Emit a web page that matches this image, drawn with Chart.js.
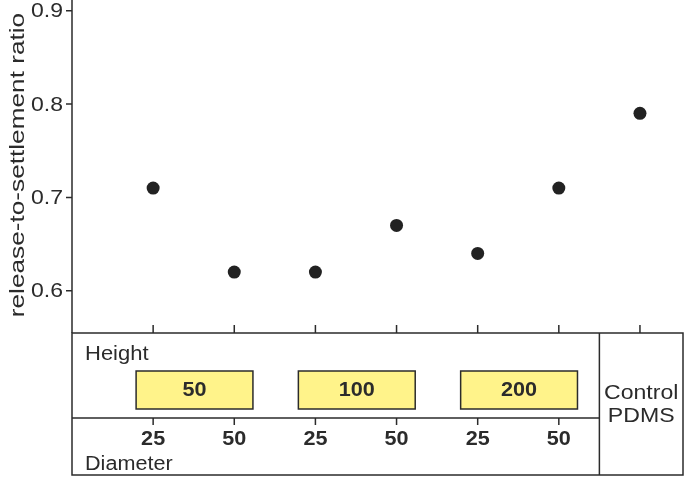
<!DOCTYPE html>
<html>
<head>
<meta charset="utf-8">
<script src="https://cdn.jsdelivr.net/npm/chart.js@4"></script>
<style>
html,body{margin:0;padding:0;background:#fff}
#wrap{width:685px;height:478px}
</style>
</head>
<body>
<div id="wrap"><canvas id="chart"></canvas></div>
<script>
// data
const positions = [1, 2, 3, 4, 5, 6, 7]
const ratios = [0.71, 0.62, 0.62, 0.67, 0.64, 0.71, 0.79]
const yTicks = [0.6, 0.7, 0.8, 0.9]
const heights = ['50', '100', '200']
const diameters = ['25', '50', '25', '50', '25', '50']
const controlLabel = ['Control', 'PDMS']
const yTitle = 'release-to-settlement ratio'

const FONT = '"Liberation Sans", Arial, sans-serif'
const INK = '#2b2b2b'

// the source figure uses a wide-set font, so text is stretched along its baseline
function txt(ctx, s, x, y, font, align, sx, rot){
  ctx.save()
  ctx.translate(x, y)
  if (rot) ctx.rotate(rot)
  ctx.scale(sx, 1)
  ctx.font = font
  ctx.textAlign = align
  ctx.textBaseline = 'middle'
  ctx.fillStyle = INK
  ctx.fillText(s, 0, 0)
  ctx.restore()
}

const tablePlugin = {
  id: 'table',
  afterDraw(chart){
    const ctx = chart.ctx
    const x = chart.scales.x
    const y = chart.scales.y
    const a = chart.chartArea
    const base = a.bottom
    const bottom = 475
    const mid = 418
    const right = chart.width - 2
    const divX = x.getPixelForValue(6.5)
    ctx.save()
    ctx.strokeStyle = INK
    ctx.lineWidth = 1.5
    // y axis
    ctx.beginPath()
    ctx.moveTo(a.left, 0); ctx.lineTo(a.left, base)
    yTicks.forEach(v => {
      const py = y.getPixelForValue(v)
      ctx.moveTo(a.left - 6, py); ctx.lineTo(a.left, py)
    })
    ctx.stroke()
    yTicks.forEach(v => {
      txt(ctx, v.toFixed(1), a.left - 9, y.getPixelForValue(v) + 1, '20px ' + FONT, 'right', 1.15)
    })
    txt(ctx, yTitle, 18, 165, '20px ' + FONT, 'center', 1.31, -Math.PI / 2)

    // x axis + table frame
    ctx.strokeRect(a.left, base, right - a.left, bottom - base)
    ctx.beginPath()
    ctx.moveTo(divX, base); ctx.lineTo(divX, bottom)
    ctx.moveTo(a.left, mid); ctx.lineTo(divX, mid)
    positions.forEach(p => {
      const px = x.getPixelForValue(p)
      ctx.moveTo(px, base - 8); ctx.lineTo(px, base)
    })
    diameters.forEach((d, i) => {
      const px = x.getPixelForValue(i + 1)
      ctx.moveTo(px, mid); ctx.lineTo(px, mid + 7)
    })
    ctx.stroke()

    txt(ctx, 'Height', a.left + 13, 354, '20px ' + FONT, 'left', 1.1)
    txt(ctx, 'Diameter', a.left + 13, 464, '20px ' + FONT, 'left', 1.08)

    heights.forEach((h, i) => {
      const x0 = x.getPixelForValue(2 * i + 1 - 0.21)
      const x1 = x.getPixelForValue(2 * i + 2 + 0.23)
      ctx.fillStyle = '#fff38a'
      ctx.fillRect(x0, 371, x1 - x0, 38)
      ctx.strokeRect(x0, 371, x1 - x0, 38)
      txt(ctx, h, (x0 + x1) / 2, 390, 'bold 20px ' + FONT, 'center', 1.08)
    })

    diameters.forEach((d, i) => {
      txt(ctx, d, x.getPixelForValue(i + 1), 439, 'bold 20px ' + FONT, 'center', 1.08)
    })

    const cx = (divX + right) / 2
    txt(ctx, controlLabel[0], cx, 393, '21px ' + FONT, 'center', 1.1)
    txt(ctx, controlLabel[1], cx, 416, '21px ' + FONT, 'center', 1.1)
    ctx.restore()
  }
}

new Chart(document.getElementById('chart'), {
  type: 'scatter',
  data: {
    datasets: [{
      data: positions.map((p, i) => ({x: p, y: ratios[i]})),
      backgroundColor: '#222',
      borderColor: '#222',
      pointBorderWidth: 0,
      pointRadius: 6.5,
      pointHoverRadius: 6.5
    }]
  },
  options: {
    responsive: true,
    maintainAspectRatio: false,
    animation: false,
    layout: {padding: {top: 0, right: 0, bottom: 145, left: 0}},
    plugins: {legend: {display: false}, tooltip: {enabled: false}},
    scales: {
      x: {
        type: 'linear',
        min: 0,
        max: 7.475,
        display: false
      },
      y: {
        min: 0.5547,
        max: 0.9045,
        afterBuildTicks: s => { s.ticks = yTicks.map(v => ({value: v})) },
        afterFit: s => { s.width = 72; s.paddingTop = 0; s.paddingBottom = 0 },
        grid: {display: false},
        border: {display: false},
        ticks: {display: false}
      }
    }
  },
  plugins: [tablePlugin]
})
</script>
</body>
</html>
